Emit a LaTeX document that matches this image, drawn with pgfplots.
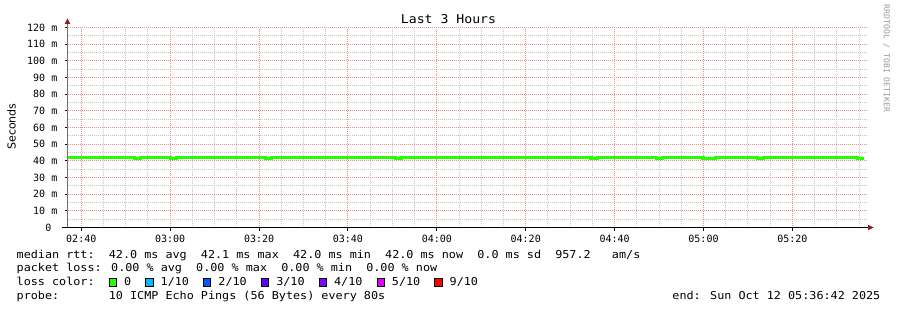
\documentclass[border=0pt]{standalone}
\usepackage{pgfplots}
\pgfplotsset{compat=1.18}
\usepackage{fontspec}
\setmainfont{DejaVu Sans}
\newfontfamily\monof{DejaVu Sans Mono}
\newfontfamily\legf[FakeStretch=1.08]{DejaVu Sans Mono}
\definecolor{lossg}{HTML}{26FF00}
\definecolor{c1}{HTML}{00B8FF}
\definecolor{c2}{HTML}{0059FF}
\definecolor{c3}{HTML}{5E00FF}
\definecolor{c4}{HTML}{7E00FF}
\definecolor{c5}{HTML}{DD00FF}
\definecolor{c9}{HTML}{FF0000}
\definecolor{mgridc}{RGB}{240,140,140}
\definecolor{lgridc}{RGB}{198,198,198}
\definecolor{arrowred}{RGB}{140,30,30}
\definecolor{axgray}{RGB}{110,110,110}
\tikzset{mg/.style={draw=mgridc, dash pattern=on 1bp off 1bp, line width=1bp},
         ng/.style={draw=lgridc, dash pattern=on 1bp off 1bp, line width=1bp}}
\newcommand\sq[1]{{\setlength\fboxsep{0pt}\setlength\fboxrule{0.9bp}\fcolorbox{black}{#1}{\rule{0pt}{6.4bp}\rule{6.4bp}{0pt}}}}
\newcommand\lf{\legf\fontsize{10.9bp}{13bp}\selectfont}
\begin{document}
\begin{tikzpicture}
\useasboundingbox (-67.5bp,-82.5bp) rectangle (829.5bp,227.5bp);
\begin{axis}[
  at={(0,0)}, anchor=south west,
  scale only axis, width=800bp, height=200bp,
  xmin=156.9, xmax=336.9, ymin=0, ymax=120,
  axis line style={draw=none},
  xtick={160,180,200,220,240,260,280,300,320},
  xticklabels={02:40,03:00,03:20,03:40,04:00,04:20,04:40,05:00,05:20},
  ytick={0,10,20,30,40,50,60,70,80,90,100,110,120},
  yticklabels={0\hphantom{0},10 m,20 m,30 m,40 m,50 m,60 m,70 m,80 m,90 m,100 m,110 m,120 m},
  grid=none,
  tick align=outside, tick pos=left,
  major tick length=3bp,
  every tick/.style={black, line width=1bp},
  ticklabel style={font=\monof\fontsize{10bp}{12bp}\selectfont, inner sep=0pt},
  xticklabel style={anchor=base, yshift=-12bp},
  yticklabel style={anchor=base east, xshift=-7bp, yshift=-3.7bp},
]
\pgfplotsinvokeforeach{165,170,175,185,190,195,205,210,215,225,230,235,245,250,255,265,270,275,285,290,295,305,310,315,325,330,335}{
  \draw[ng] (axis cs:#1,0) -- (axis cs:#1,120);
}
\pgfplotsinvokeforeach{5,15,25,35,45,55,65,75,85,95,105,115}{
  \draw[ng] (axis cs:156.9,#1) -- (axis cs:336.9,#1);
}
\pgfplotsinvokeforeach{160,180,200,220,240,260,280,300,320}{
  \draw[mg] (axis cs:#1,0) -- (axis cs:#1,120);
}
\pgfplotsinvokeforeach{10,20,30,40,50,60,70,80,90,100,110,120}{
  \draw[mg] (axis cs:156.9,#1) -- (axis cs:336.9,#1);
}
\addplot[const plot, color=lossg, line width=3.2bp] coordinates {
(156.9,42.0) (172.0,41.5) (173.3,42.0) (180.1,41.5) (181.4,42.0)
(201.5,41.5) (202.8,42.0) (230.7,41.5) (232.0,42.0) (274.7,41.5)
(276.1,42.0) (289.4,41.5) (290.8,42.0) (299.9,41.5) (302.7,42.0)
(312.2,41.5) (313.5,42.0) (317.4,42.2) (329.3,42.0) (334.7,41.5)
(336.0,41.5)
};
\end{axis}
\draw[color=axgray, line width=1bp] (0,-0.5bp) -- (0,204bp);
\fill[arrowred] (-2.8bp,203.5bp) -- (2.8bp,203.5bp) -- (0,209bp) -- cycle;
\draw[black, line width=1bp] (-5bp,0) -- (801bp,0);
\fill[arrowred] (800.5bp,-2.8bp) -- (800.5bp,2.8bp) -- (806bp,0) -- cycle;
\node[anchor=base, inner sep=0pt, font=\legf\fontsize{12.2bp}{14bp}\selectfont] at (381bp,204bp) {Last 3 Hours};
\node[rotate=90, inner sep=0pt, font=\fontsize{11bp}{13bp}\selectfont] at (-56bp,101bp) {Seconds};
\node[rotate=-90, inner sep=0pt, text=black!40, font=\monof\fontsize{8.1bp}{10bp}\selectfont] at (819bp,169bp) {RRDTOOL / TOBI OETIKER};
\node[anchor=base west, inner sep=0pt, font=\lf] at (-51bp,-31bp) {median rtt:\ \ 42.0 ms avg\ \ 42.1 ms max\ \ 42.0 ms min\ \ 42.0 ms now\ \ 0.0 ms sd\ \ 957.2\ \ \ am/s};
\node[anchor=base west, inner sep=0pt, font=\lf] at (-51bp,-44bp) {packet loss: 0.00 \% avg\ \ 0.00 \% max\ \ 0.00 \% min\ \ 0.00 \% now};
\node[anchor=base west, inner sep=0pt, font=\lf] at (-51bp,-58bp) {loss color:\ \ \sq{lossg}\ 0\ \ \sq{c1}\ 1/10\ \ \sq{c2}\ 2/10\ \ \sq{c3}\ 3/10\ \ \sq{c4}\ 4/10\ \ \sq{c5}\ 5/10\ \ \sq{c9}\ 9/10};
\node[anchor=base west, inner sep=0pt, font=\lf] at (-51bp,-72bp) {probe:\ \ \ \ \ \ \ 10 ICMP Echo Pings (56 Bytes) every 80s};
\node[anchor=base east, inner sep=0pt, font=\lf] at (813bp,-72bp) {end: Sun Oct 12 05:36:42 2025};
\end{tikzpicture}
\end{document}
